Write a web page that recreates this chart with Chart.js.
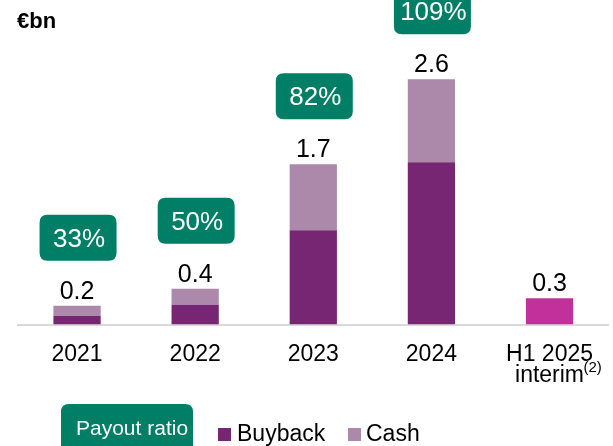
<!DOCTYPE html>
<html>
<head>
<meta charset="utf-8">
<script src="https://cdn.jsdelivr.net/npm/chart.js@4.4.0/dist/chart.umd.min.js"></script>
<style>
  html, body { margin: 0; padding: 0; background: #fff; }
  #wrap { width: 613px; height: 446px; }
</style>
</head>
<body>
<div id="wrap"><canvas id="payout"></canvas></div>
<script>
// ************** Shareholder distributions - stacked bars *******************
const categories = ["2021", "2022", "2023", "2024", ["H1 2025", "interim"]];
const buybackValues = [0.09, 0.21, 1.0, 1.72, null];
const cashValues = [0.11, 0.17, 0.7, 0.88, null];
const interimValues = [null, null, null, null, 0.28];
const totalLabels = ["0.2", "0.4", "1.7", "2.6", "0.3"];
const payoutRatios = ["33%", "50%", "82%", "109%", null];

const FONT = "'Liberation Sans', Arial, sans-serif";
const GREEN = "#007F66";

function roundRect(ctx, x, y, w, h, r) {
    ctx.beginPath();
    ctx.moveTo(x + r, y);
    ctx.lineTo(x + w - r, y);
    ctx.quadraticCurveTo(x + w, y, x + w, y + r);
    ctx.lineTo(x + w, y + h - r);
    ctx.quadraticCurveTo(x + w, y + h, x + w - r, y + h);
    ctx.lineTo(x + r, y + h);
    ctx.quadraticCurveTo(x, y + h, x, y + h - r);
    ctx.lineTo(x, y + r);
    ctx.quadraticCurveTo(x, y, x + r, y);
    ctx.closePath();
}

// labels on top of the bars, payout ratio boxes, unit, legend
const annotations = {
    id: "annotations",
    afterDraw(chart) {
        const ctx = chart.ctx;
        const x = chart.scales.x, y = chart.scales.y;
        const sets = chart.data.datasets;
        ctx.save();

        categories.forEach(function (c, i) {
            let total = 0;
            sets.forEach(function (ds) { total += ds.data[i] || 0; });
            const cx = x.getPixelForValue(i);
            const top = y.getPixelForValue(total);

            ctx.fillStyle = "#000";
            ctx.font = "25px " + FONT;
            ctx.textAlign = "center";
            ctx.textBaseline = "alphabetic";
            ctx.fillText(totalLabels[i], cx, top - 7);

            if (payoutRatios[i]) {
                const bw = 77, bh = 46;
                const by = top - 45 - bh;
                ctx.fillStyle = GREEN;
                roundRect(ctx, cx - bw / 2 + 1, by, bw, bh, 8);
                ctx.fill();
                ctx.fillStyle = "#fff";
                ctx.font = "26px " + FONT;
                ctx.fillText(payoutRatios[i], cx + 2, by + 32);
            }
        });

        // footnote on the last tick
        const lx = x.getPixelForValue(4);
        ctx.fillStyle = "#000";
        ctx.font = "15px " + FONT;
        ctx.textAlign = "left";
        ctx.fillText("(2)", lx + 34, chart.chartArea.bottom + 47);

        // unit
        ctx.font = "bold 22px " + FONT;
        ctx.fillText("€bn", 17, 28);

        // legend
        ctx.fillStyle = GREEN;
        roundRect(ctx, 61, 404, 132, 60, 8);
        ctx.fill();
        ctx.fillStyle = "#fff";
        ctx.font = "21px " + FONT;
        ctx.fillText("Payout ratio", 76, 435);

        ctx.font = "23px " + FONT;
        ctx.fillStyle = sets[0].backgroundColor;
        ctx.fillRect(218, 428, 13, 13);
        ctx.fillStyle = "#000";
        ctx.fillText(sets[0].label, 237, 441);
        ctx.fillStyle = sets[1].backgroundColor;
        ctx.fillRect(348, 428, 13, 13);
        ctx.fillStyle = "#000";
        ctx.fillText(sets[1].label, 366, 441);

        ctx.restore();
    }
};

new Chart("payout", {
    type: "bar",
    data: {
        labels: categories,
        datasets: [{
            label: "Buyback",
            data: buybackValues,
            backgroundColor: "#772673"
        }, {
            label: "Cash",
            data: cashValues,
            backgroundColor: "#AC89AB"
        }, {
            label: "Interim",
            data: interimValues,
            backgroundColor: "#C1309B"
        }]
    },
    options: {
        responsive: true,
        maintainAspectRatio: false,
        animation: false,
        categoryPercentage: 0.8,
        barPercentage: 0.5,
        layout: { padding: { left: 18, right: 0, top: 0, bottom: 40 } },
        plugins: {
            legend: { display: false },
            tooltip: { enabled: false }
        },
        scales: {
            x: {
                stacked: true,
                grid: { display: false, drawTicks: false, tickLength: 0 },
                border: { display: true, color: "#D9D9D9", width: 2 },
                ticks: {
                    color: "#000",
                    padding: 20,
                    font: { family: FONT, size: 23, lineHeight: 0.9 }
                }
            },
            y: {
                stacked: true,
                display: false,
                min: 0,
                max: 3.44
            }
        }
    },
    plugins: [annotations]
});
</script>
</body>
</html>
